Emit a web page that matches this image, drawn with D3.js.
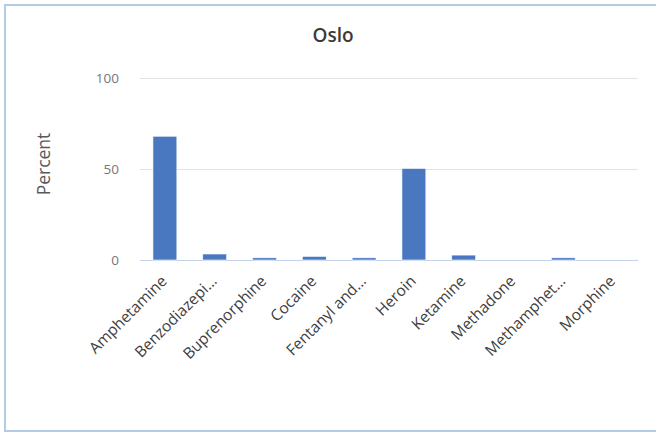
<!DOCTYPE html>
<html><head><meta charset="utf-8">
<script src="https://cdn.jsdelivr.net/npm/d3@7"></script>
<style>body{margin:0;background:#fff}svg{display:block}</style>
</head><body>
<svg id="c" width="656" height="432"></svg>
<script>
const categories = ["Amphetamine","Benzodiazepi…","Buprenorphine","Cocaine","Fentanyl and…","Heroin","Ketamine","Methadone","Methamphet…","Morphine"];
const values = [68, 3.3, 1.2, 2, 1.2, 50.3, 2.7, 0, 1.2, 0];
const yTicks = [0, 50, 100];
const title = "Oslo";
const yLabel = "Percent";

const svg = d3.select("#c");
const font = "'Open Sans', 'Noto Sans', sans-serif";
svg.append("rect").attr("x",5).attr("y",5).attr("width",670).attr("height",426)
  .attr("fill","#fff").attr("stroke","#b4cbe6").attr("stroke-width",2);

const x = d3.scaleBand().domain(categories).range([140,638]).paddingInner(0.52).paddingOuter(0.26);
const y = d3.scaleLinear().domain([0,100]).range([260,78]);

// gridlines
const yAxis = d3.axisLeft(y).tickValues(yTicks).tickSize(-(638-140)).tickPadding(21);
const gy = svg.append("g").attr("transform","translate(140,0)").call(yAxis);
gy.select(".domain").remove();
gy.selectAll(".tick line").attr("stroke","#e3e3e3").attr("stroke-width",1);
gy.selectAll(".tick text").attr("fill","#767676").style("font-family",font).style("font-size","13.5px");
gy.selectAll(".tick").filter(d=>d===0).select("line").attr("stroke","#c3d1ea");

svg.append("g").selectAll("rect").data(categories).join("rect")
  .attr("x",d=>x(d)).attr("width",x.bandwidth())
  .attr("y",(d,i)=>y(values[i])).attr("height",(d,i)=>y(0)-y(values[i]))
  .attr("fill","#4a78c0").attr("stroke","#fff").attr("stroke-width",0.6);

const gx = svg.append("g").attr("transform","translate(0,260)").call(d3.axisBottom(x).tickSize(0).tickPadding(0));
gx.select(".domain").remove();
gx.selectAll(".tick text")
  .attr("text-anchor","end").attr("dy",0).attr("y",0)
  .attr("transform","translate(3,22) rotate(-45)")
  .attr("fill","#404040").style("font-family",font).style("font-size","15.5px");

svg.append("text").attr("x",333).attr("y",42).attr("text-anchor","middle")
  .attr("fill","#3a3a3a").style("font-family",font).style("font-size","19px").style("font-weight","600").text(title);

svg.append("text").attr("transform","translate(50,164) rotate(-90)").attr("text-anchor","middle")
  .attr("fill","#595959").style("font-family",font).style("font-size","17.5px").style("font-weight","500").text(yLabel);
</script>
</body></html>
